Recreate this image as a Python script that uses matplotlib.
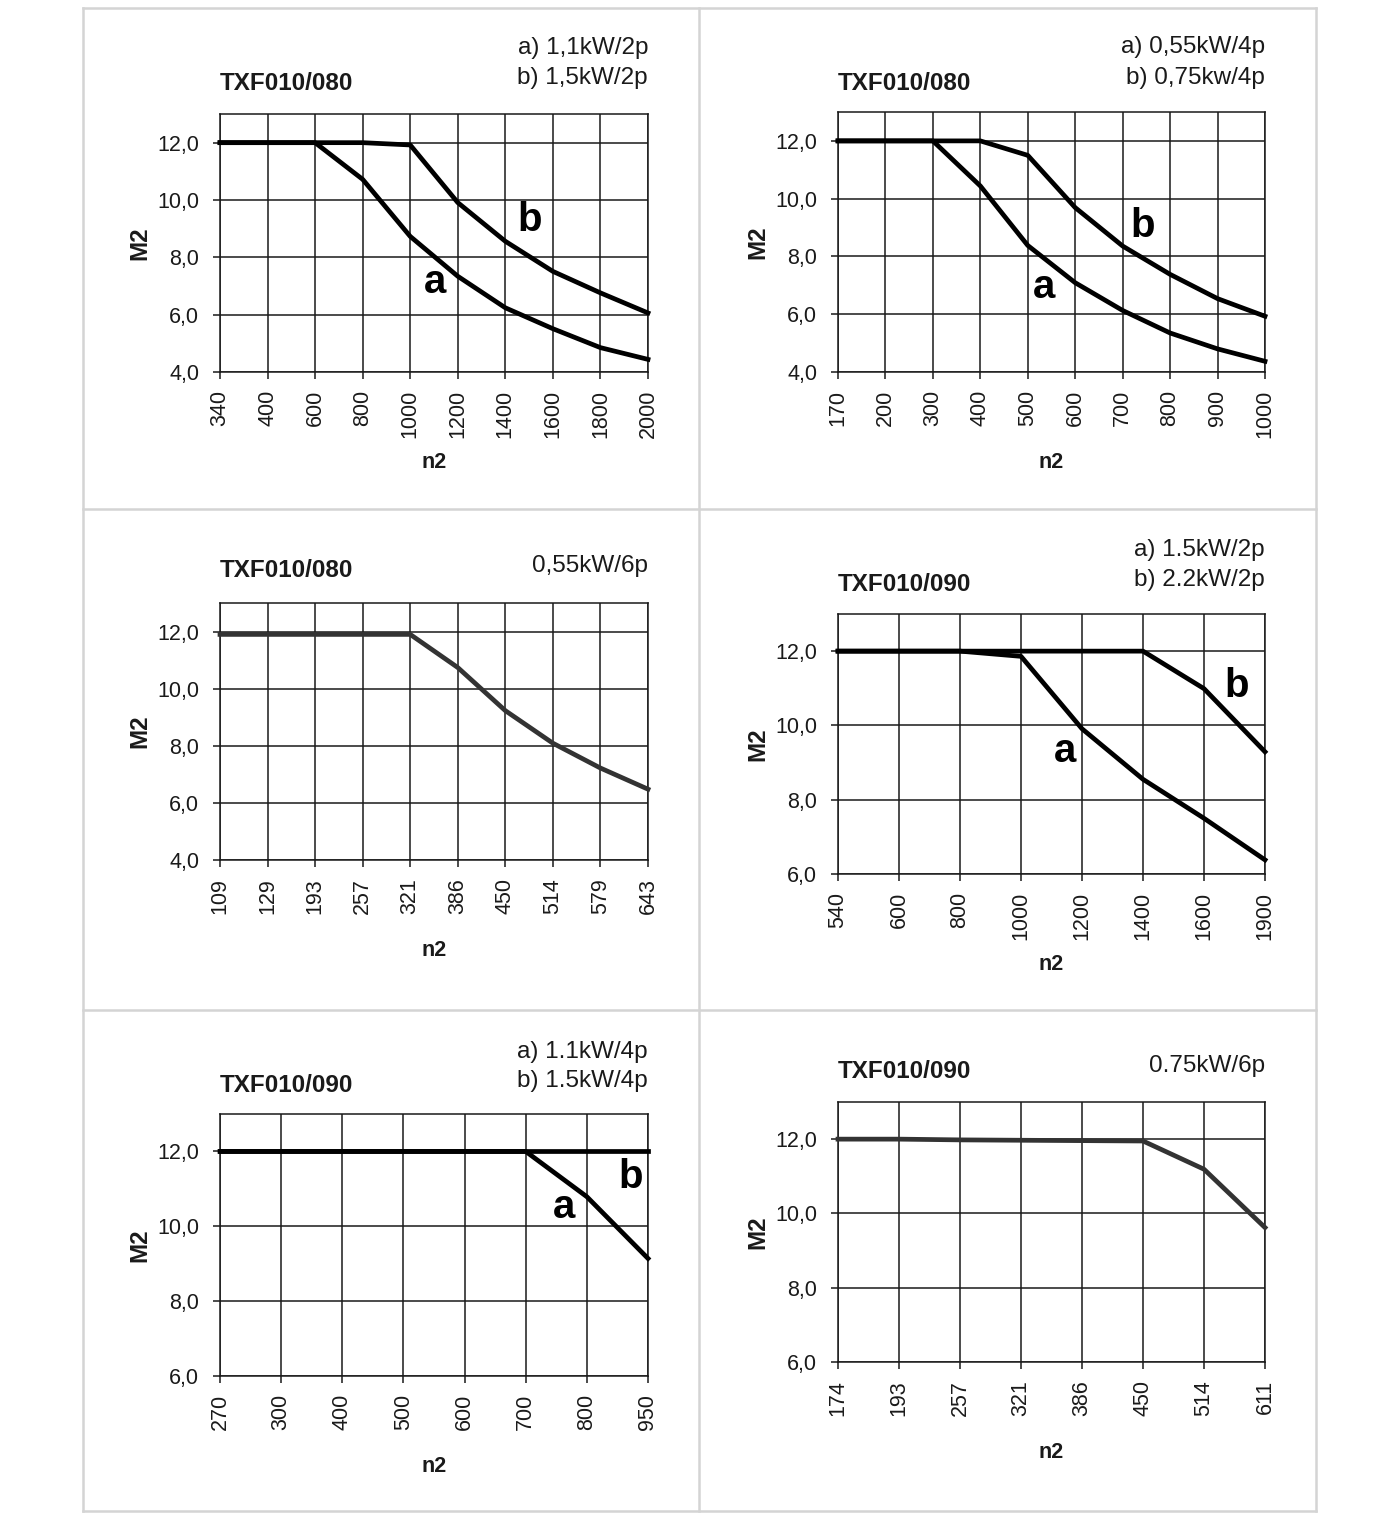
import matplotlib
matplotlib.use("Agg")
import matplotlib.pyplot as plt
from matplotlib.lines import Line2D

plt.rcParams["font.family"] = ["Liberation Sans", "DejaVu Sans"]

# --- data -------------------------------------------------------------
n2_p1 = [340, 400, 600, 800, 1000, 1200, 1400, 1600, 1800, 2000]
m2_p1_a = [12.0, 12.0, 12.0, 10.72, 8.73, 7.34, 6.24, 5.51, 4.85, 4.44]
m2_p1_b = [12.0, 12.0, 12.0, 12.0, 11.92, 9.91, 8.56, 7.51, 6.76, 6.06]

n2_p2 = [170, 200, 300, 400, 500, 600, 700, 800, 900, 1000]
m2_p2_a = [12.0, 12.0, 12.0, 10.44, 8.38, 7.09, 6.13, 5.35, 4.80, 4.37]
m2_p2_b = [12.0, 12.0, 12.0, 12.0, 11.50, 9.69, 8.36, 7.38, 6.54, 5.93]

n2_p3 = [109, 129, 193, 257, 321, 386, 450, 514, 579, 643]
m2_p3 = [11.9, 11.9, 11.9, 11.9, 11.9, 10.74, 9.23, 8.09, 7.22, 6.48]

n2_p4 = [540, 600, 800, 1000, 1200, 1400, 1600, 1900]
m2_p4_a = [12.0, 12.0, 12.0, 11.86, 9.91, 8.55, 7.50, 6.38]
m2_p4_b = [12.0, 12.0, 12.0, 12.0, 12.0, 12.0, 10.99, 9.29]

n2_p5 = [270, 300, 400, 500, 600, 700, 800, 950]
m2_p5_a = [12.0, 12.0, 12.0, 12.0, 12.0, 12.0, 10.79, 9.14]
m2_p5_b = [12.0, 12.0, 12.0, 12.0, 12.0, 12.0, 12.0, 12.0]

n2_p6 = [174, 193, 257, 321, 386, 450, 514, 611]
m2_p6 = [12.0, 12.0, 11.98, 11.97, 11.96, 11.95, 11.19, 9.62]

W, H = 1400, 1518


def fx(px):
    return px / W


def fy(py):
    return 1 - py / H


def pannello(fig, box, n2, series, ymin, titolo, titolo_y, note, note_y, colore="black"):
    left, top, right, bottom = box
    ax = fig.add_axes([fx(left), fy(bottom), fx(right - left), (bottom - top) / H])
    x = list(range(len(n2)))
    for valori, etichetta, pos in series:
        ax.plot(x, valori, color=colore, lw=3.4, solid_joinstyle="round", clip_on=False, zorder=3)
        if etichetta:
            ax.text(pos[0], pos[1], etichetta, fontsize=29, fontweight="bold",
                    ha="center", va="center", zorder=4)
    ax.set_xlim(0, len(n2) - 1)
    ax.set_ylim(ymin, 13)
    ax.set_xticks(x, [str(v) for v in n2], rotation=90)
    yt = list(range(ymin, 13, 2))
    ax.set_yticks(yt, [f"{v:.1f}".replace(".", ",") for v in yt])
    ax.tick_params(axis="both", labelsize=15.5, length=5, width=1.1, color="#1a1a1a",
                   direction="out", labelcolor="#1a1a1a")
    ax.tick_params(axis="y", pad=10)
    ax.tick_params(axis="x", pad=8)
    ax.grid(True, color="#1a1a1a", lw=1.1)
    ax.set_axisbelow(True)
    for s in ax.spines.values():
        s.set_color("#1a1a1a")
        s.set_linewidth(1.1)

    fig.text(fx(left), fy(titolo_y), titolo, fontsize=17.5, fontweight="bold",
             ha="left", va="center", color="#1a1a1a")
    for riga, yy in zip(note, note_y):
        fig.text(fx(right), fy(yy), riga, fontsize=17.5, ha="right", va="center",
                 color="#1a1a1a")
    fig.text(fx(left - 80), fy((top + bottom) / 2), "M2", fontsize=17.5,
             fontweight="bold", rotation=90, ha="center", va="center", color="#1a1a1a")
    fig.text(fx((left + right) / 2), fy(bottom + 90), "n2", fontsize=15.5,
             fontweight="bold", ha="center", va="center", color="#1a1a1a")
    return ax


def main():
    fig = plt.figure(figsize=(W / 100, H / 100), dpi=100)

    pannello(fig, (220, 114, 648, 372), n2_p1,
             [(m2_p1_a, "a", (4.52, 7.15)), (m2_p1_b, "b", (6.52, 9.31))],
             4, "TXF010/080", 83, ["a) 1,1kW/2p", "b) 1,5kW/2p"], [48, 78])
    pannello(fig, (838, 112, 1265, 372), n2_p2,
             [(m2_p2_a, "a", (4.34, 6.95)), (m2_p2_b, "b", (6.43, 9.06))],
             4, "TXF010/080", 83, ["a) 0,55kW/4p", "b) 0,75kw/4p"], [47, 78])
    pannello(fig, (220, 603, 648, 860), n2_p3,
             [(m2_p3, None, None)],
             4, "TXF010/080", 570, ["0,55kW/6p"], [566], colore="#333333")
    pannello(fig, (838, 614, 1265, 874), n2_p4,
             [(m2_p4_a, "a", (3.72, 9.32)), (m2_p4_b, "b", (6.54, 11.06))],
             6, "TXF010/090", 584, ["a) 1.5kW/2p", "b) 2.2kW/2p"], [550, 580])
    pannello(fig, (220, 1114, 648, 1376), n2_p5,
             [(m2_p5_a, "a", (5.63, 10.51)), (m2_p5_b, "b", (6.71, 11.31))],
             6, "TXF010/090", 1085, ["a) 1.1kW/4p", "b) 1.5kW/4p"], [1052, 1081])
    pannello(fig, (838, 1102, 1265, 1362), n2_p6,
             [(m2_p6, None, None)],
             6, "TXF010/090", 1071, ["0.75kW/6p"], [1066], colore="#333333")

    # cell borders
    grigio = dict(color="#d4d4d4", lw=1.8)
    for xs, ys in [
        ([83, 1316], [8, 8]), ([83, 1316], [1511, 1511]),
        ([83, 83], [8, 1511]), ([1316, 1316], [8, 1511]),
        ([699, 699], [8, 1511]), ([83, 1316], [509, 509]), ([83, 1316], [1010, 1010]),
    ]:
        fig.add_artist(Line2D([fx(v) for v in xs], [fy(v) for v in ys], **grigio))

    fig.savefig("out.png", dpi=100)


if __name__ == "__main__":
    main()
